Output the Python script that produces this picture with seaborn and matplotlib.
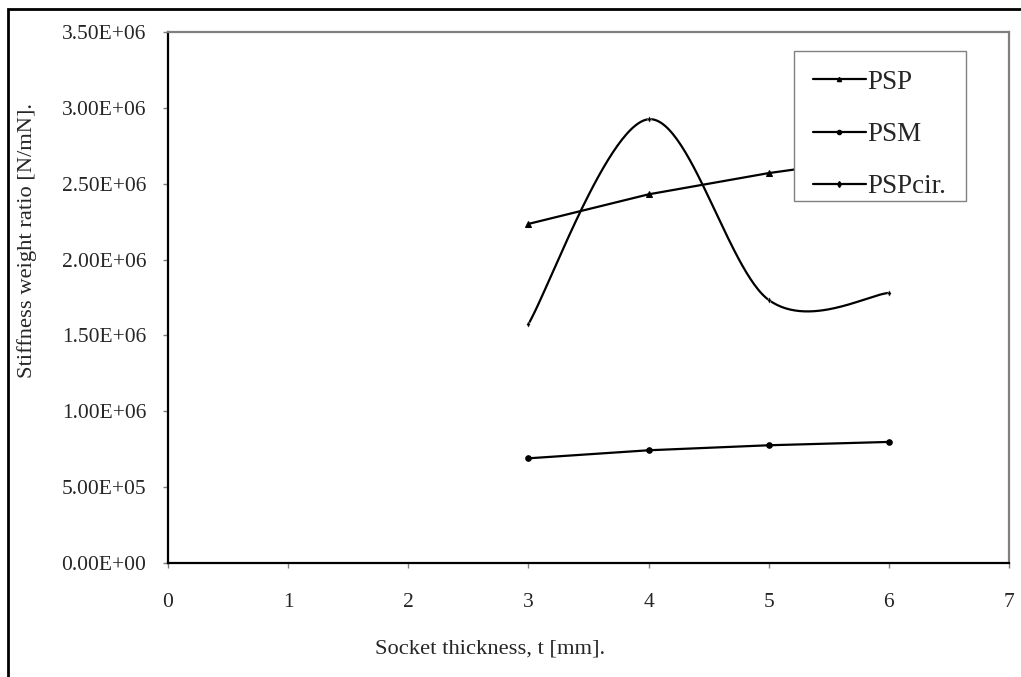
import numpy as np
import pandas as pd
import seaborn as sns
import matplotlib
matplotlib.use('Agg')
import matplotlib.pyplot as plt
from matplotlib.lines import Line2D
from matplotlib.patches import Rectangle
from matplotlib.ticker import FuncFormatter

thickness = [3, 4, 5, 6]
psp = [2.235e6, 2.43e6, 2.57e6, 2.68e6]
psm = [0.69e6, 0.743e6, 0.776e6, 0.798e6]
psp_cir = [1.575e6, 2.925e6, 1.734e6, 1.78e6]
series_names = ['PSP', 'PSM', 'PSPcir.']


def excel_smooth(xs, ys, n=60):
    # catmull-rom style smoothing like Excel's "smoothed line"
    xs = np.asarray(xs, float)
    ys = np.asarray(ys, float)
    px = np.concatenate([[xs[0]], xs, [xs[-1]]])
    py = np.concatenate([[ys[0]], ys, [ys[-1]]])
    outx, outy = [], []
    t = np.linspace(0, 1, n)
    for i in range(1, len(px) - 2):
        x0, x1, x2, x3 = px[i - 1:i + 3]
        y0, y1, y2, y3 = py[i - 1:i + 3]
        cx1, cy1 = x1 + (x2 - x0) / 6, y1 + (y2 - y0) / 6
        cx2, cy2 = x2 - (x3 - x1) / 6, y2 - (y3 - y1) / 6
        bx = (1 - t)**3 * x1 + 3 * (1 - t)**2 * t * cx1 + 3 * (1 - t) * t**2 * cx2 + t**3 * x2
        by = (1 - t)**3 * y1 + 3 * (1 - t)**2 * t * cy1 + 3 * (1 - t) * t**2 * cy2 + t**3 * y2
        outx.extend(bx)
        outy.extend(by)
    return np.array(outx), np.array(outy)


sns.set_style('white')
plt.rcParams['font.family'] = ['Liberation Serif', 'DejaVu Serif']

fig = plt.figure(figsize=(10.21, 6.77), dpi=100)
ax = fig.add_axes([168 / 1021, 1 - 563 / 677, (1009 - 168) / 1021, (563 - 32) / 677])

lw = 1.6
sns.lineplot(x=thickness, y=psp, ax=ax, color='black', lw=lw, marker='^', ms=4, mec='black')
sns.lineplot(x=thickness, y=psm, ax=ax, color='black', lw=lw, marker='o', ms=4, mec='black')
sx, sy = excel_smooth(thickness, psp_cir)
smooth = pd.DataFrame({'x': sx, 'y': sy})
sns.lineplot(data=smooth, x='x', y='y', ax=ax, color='black', lw=lw, sort=False, estimator=None)
sns.scatterplot(x=thickness, y=psp_cir, ax=ax, color='black', marker='d', s=10, zorder=3)

ax.set_xlim(0, 7)
ax.set_ylim(0, 3.5e6)
ax.set_xticks(range(0, 8))
ax.set_yticks(np.arange(0, 3.51e6, 0.5e6))
ax.yaxis.set_major_formatter(FuncFormatter(lambda v, p: f'{v:.2E}'))
ax.tick_params(axis='both', direction='out', length=3.6, width=1, color='#808080',
               labelsize=15.5, left=True, bottom=True)
ax.tick_params(axis='y', pad=12)
ax.tick_params(axis='x', pad=18)
for s in ['left', 'bottom']:
    ax.spines[s].set_color('black')
    ax.spines[s].set_linewidth(1.6)
for s in ['top', 'right']:
    ax.spines[s].set_color('#808080')
    ax.spines[s].set_linewidth(1.6)
ax.set_xlabel('')
ax.set_ylabel('')

fig.text(490 / 1021, 1 - 649 / 677, 'Socket thickness, t [mm].', fontsize=16.2,
         ha='center', va='center')
fig.text(27 / 1021, 1 - 241 / 677, 'Stiffness weight ratio [N/mN].', fontsize=16.2,
         ha='center', va='center', rotation=90)

# legend box drawn separately so its padding matches the original
fig.patches.append(Rectangle((794 / 1021, 1 - 201 / 677), 172 / 1021, 150 / 677,
                             transform=fig.transFigure, facecolor='white',
                             edgecolor='#808080', lw=1, zorder=4))

handles = [
    Line2D([], [], color='black', lw=lw, marker='^', ms=3),
    Line2D([], [], color='black', lw=lw, marker='o', ms=3),
    Line2D([], [], color='black', lw=lw, marker='d', ms=3),
]
leg = fig.legend(handles, series_names, loc='upper left',
                 bbox_to_anchor=(794 / 1021, 1 - 51 / 677), borderaxespad=0,
                 fontsize=19.5, frameon=False, handlelength=1.95,
                 handletextpad=0.05, labelspacing=1.0, borderpad=0.7)
leg.set_zorder(5)

fig.patches.append(Rectangle((8 / 1021, -0.1), 1.5, 1 - 9 / 677 + 0.1,
                             transform=fig.transFigure, fill=False,
                             edgecolor='black', lw=2, clip_on=False))

fig.savefig('out.png', dpi=100)
